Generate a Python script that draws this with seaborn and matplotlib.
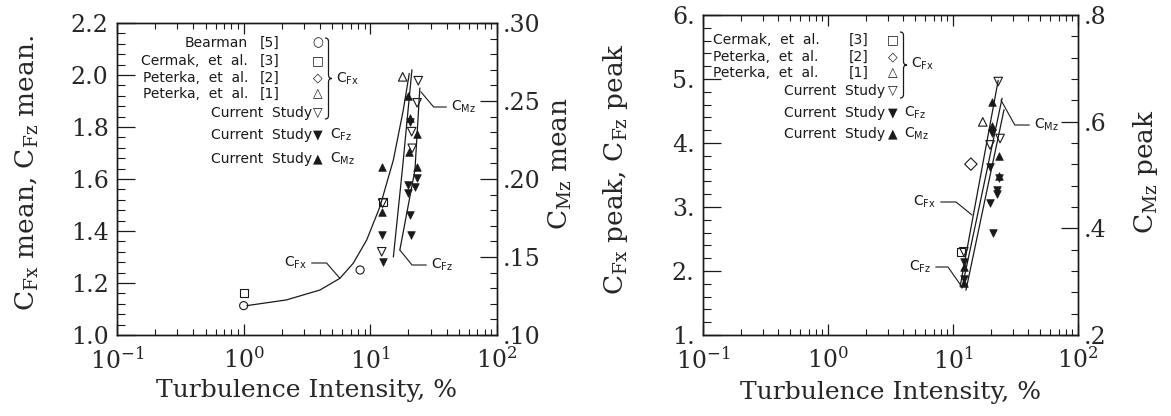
import numpy as np
import matplotlib
matplotlib.use('Agg')
import matplotlib.pyplot as plt
import seaborn as sns
from matplotlib.ticker import MultipleLocator, FuncFormatter
from matplotlib.path import Path
from matplotlib.patches import PathPatch

# ---- datos panel izquierdo (mean) ----
bearman_x = [1.0, 8.3]
bearman_y = [1.113, 1.25]
cermak_mean_x = [1.0, 12.5]
cermak_mean_y = [1.16, 1.51]
peterka1_mean_x = [18.0]
peterka1_mean_y = [1.993]
cur_fx_mean_x = [23.9, 23.4, 21.2, 21.4, 12.5, 12.3]
cur_fx_mean_y = [1.978, 1.893, 1.782, 1.718, 1.507, 1.320]
cur_fz_mean_x = [20.5, 23.2, 19.9, 22.5, 19.9, 20.5, 12.3, 20.8, 12.5]
cur_fz_mean_y = [1.819, 1.603, 1.577, 1.570, 1.545, 1.462, 1.385, 1.385, 1.282]
cur_mz_mean_x = [19.9, 20.5, 23.2, 20.2, 12.3, 23.2, 12.3]
cur_mz_mean_y = [0.253, 0.239, 0.229, 0.217, 0.208, 0.208, 0.179]

fit_fx_mean_x = [1.06, 2.18, 4.0, 5.75, 7.33, 9.35, 11.9, 15.2, 18.2, 20.3]
fit_fx_mean_y = [1.113, 1.135, 1.173, 1.218, 1.276, 1.365, 1.493, 1.673, 1.865, 2.006]
fit_fz_mean_x = [17.1, 22.5, 24.6]
fit_fz_mean_y = [1.327, 1.635, 1.95]
fit_mz_mean_x = [15.2, 18.0, 21.3]
fit_mz_mean_y = [0.150, 0.208, 0.270]

# ---- datos panel derecho (peak) ----
cermak_peak_x = [11.5]
cermak_peak_y = [2.30]
peterka2_peak_x = [13.9]
peterka2_peak_y = [3.67]
peterka1_peak_x = [17.3]
peterka1_peak_y = [4.33]
cur_fx_peak_x = [23.0, 23.8, 19.8, 12.2]
cur_fx_peak_y = [4.96, 4.07, 3.97, 2.30]
cur_fz_peak_x = [20.4, 19.8, 23.5, 22.4, 22.4, 19.8, 20.8, 12.2, 12.2]
cur_fz_peak_y = [4.15, 3.63, 3.45, 3.27, 3.21, 3.07, 2.60, 2.14, 1.88]
cur_mz_peak_x = [20.4, 20.4, 23.5, 23.5, 12.2, 12.2]
cur_mz_peak_y = [0.637, 0.591, 0.536, 0.498, 0.328, 0.297]

fit_fx_peak_x = [11.4, 16.2, 23.0]
fit_fx_peak_y = [1.755, 3.37, 4.98]
fit_fz_peak_x = [12.7, 18.0, 25.6]
fit_fz_peak_y = [1.70, 3.11, 4.52]
fit_mz_peak_x = [11.8, 17.1, 24.7]
fit_mz_peak_y = [0.288, 0.466, 0.644]

W, H = 1171, 416
INK = '#1a1a1a'
TICK_FS = 17
LABEL_FS = 19

sns.set_style('ticks')
plt.rcParams['font.family'] = ['DejaVu Serif']
plt.rcParams['mathtext.fontset'] = 'dejavuserif'
plt.rcParams['axes.edgecolor'] = INK
plt.rcParams['axes.linewidth'] = 1.0

fig = plt.figure(figsize=(W / 100, H / 100), dpi=100)


def fx(px):
    return px / W


def fy(py):
    return 1 - py / H


def ejes(x0, x1, y0, y1):
    return fig.add_axes([fx(x0), fy(y1), fx(x1 - x0), (y1 - y0) / H])


def abiertos(ax, x, y, m, s=38):
    sns.scatterplot(x=x, y=y, ax=ax, marker=m, s=s, color=INK, facecolor='none',
                    edgecolor=INK, linewidth=0.8, zorder=4, legend=False)


def llenos(ax, x, y, m, s=30):
    sns.scatterplot(x=x, y=y, ax=ax, marker=m, s=s, color=INK, edgecolor=INK,
                    linewidth=0.5, zorder=4, legend=False)


def curva(ax, x, y):
    sns.lineplot(x=x, y=y, ax=ax, color=INK, lw=0.9, sort=False, estimator=None, zorder=3)


def formato(ax, tw, ylim, yt, yf, tlim, tt, tf):
    ax.set_xscale('log')
    ax.set_xlim(0.1, 100)
    ax.set_ylim(*ylim)
    ax.yaxis.set_major_locator(MultipleLocator(yt[0]))
    ax.yaxis.set_minor_locator(MultipleLocator(yt[1]))
    ax.yaxis.set_major_formatter(FuncFormatter(yf))
    tw.set_ylim(*tlim)
    tw.yaxis.set_major_locator(MultipleLocator(tt[0]))
    tw.yaxis.set_minor_locator(MultipleLocator(tt[1]))
    tw.yaxis.set_major_formatter(FuncFormatter(tf))
    ax.tick_params(axis='x', which='both', direction='in', top=True, bottom=True,
                   labelsize=TICK_FS, pad=9, color=INK)
    ax.tick_params(axis='x', which='major', length=8, width=0.9)
    ax.tick_params(axis='x', which='minor', length=4, width=0.8)
    ax.tick_params(axis='y', which='both', direction='in', left=True, right=False,
                   labelsize=TICK_FS, pad=6, color=INK)
    ax.tick_params(axis='y', which='major', length=13, width=0.9)
    ax.tick_params(axis='y', which='minor', length=6, width=0.8)
    tw.tick_params(axis='y', which='both', direction='in', labelsize=TICK_FS, pad=4, color=INK)
    tw.tick_params(axis='y', which='major', length=12, width=0.9)
    tw.tick_params(axis='y', which='minor', length=5, width=0.8)
    for a in (ax, tw):
        for sp in a.spines.values():
            sp.set_visible(True)
            sp.set_linewidth(1.0)
    ax.set_xlabel('Turbulence Intensity, %', fontsize=18)


def llave(x0, y_top, y_bot, w):
    ym = (y_top + y_bot) / 2
    xm = x0 + w / 2
    pts = [(x0, y_top), (xm, y_top), (xm, y_top + w / 2), (xm, ym - w / 2),
           (xm, ym), (x0 + w, ym), (xm, ym), (xm, ym + w / 2), (xm, y_bot - w / 2),
           (xm, y_bot), (x0, y_bot)]
    codes = [Path.MOVETO, Path.CURVE3, Path.CURVE3, Path.LINETO, Path.CURVE3, Path.CURVE3,
             Path.CURVE3, Path.CURVE3, Path.LINETO, Path.CURVE3, Path.CURVE3]
    verts = [(fx(a), fy(b)) for a, b in pts]
    fig.add_artist(PathPatch(Path(verts, codes), transform=fig.transFigure,
                             fill=False, lw=0.9, ec=INK))


def txt(px, py, s, ha='left', size=10):
    fig.text(fx(px), fy(py), s, ha=ha, va='center', fontsize=size,
             family='DejaVu Sans', color=INK)


def guia(ax, s, xy, tx, ty, ha, angB):
    ax.annotate(s, xy=xy, xytext=(fx(tx), fy(ty)), textcoords='figure fraction',
                ha=ha, va='center', fontsize=10, family='DejaVu Sans', color=INK,
                arrowprops=dict(arrowstyle='-', lw=0.8, color=INK, shrinkA=1, shrinkB=0,
                                relpos=(1, 0.5) if ha == 'right' else (0, 0.5),
                                connectionstyle=f'angle,angleA=0,angleB={angB},rad=0'))


SUB_FX = r'C$_{\mathsf{Fx}}$'
SUB_FZ = r'C$_{\mathsf{Fz}}$'
SUB_MZ = r'C$_{\mathsf{Mz}}$'

# ================= panel izquierdo =================
ax1 = ejes(117, 497, 23, 335)
tw1 = ax1.twinx()
curva(ax1, fit_fx_mean_x, fit_fx_mean_y)
curva(ax1, fit_fz_mean_x, fit_fz_mean_y)
curva(tw1, fit_mz_mean_x, fit_mz_mean_y)
abiertos(ax1, bearman_x, bearman_y, 'o', 34)
abiertos(ax1, cermak_mean_x, cermak_mean_y, 's', 34)
abiertos(ax1, peterka1_mean_x, peterka1_mean_y, '^')
abiertos(ax1, cur_fx_mean_x, cur_fx_mean_y, 'v')
llenos(ax1, cur_fz_mean_x, cur_fz_mean_y, 'v')
llenos(tw1, cur_mz_mean_x, cur_mz_mean_y, '^')
formato(ax1, tw1, (1.0, 2.2), (0.2, 0.04), lambda v, p: f'{v:.1f}',
        (0.10, 0.30), (0.05, 0.01), lambda v, p: f'{v:.2f}'[1:])
ax1.set_ylabel(r'C$_{\mathrm{Fx}}$ mean, C$_{\mathrm{Fz}}$ mean.', fontsize=LABEL_FS)
ax1.yaxis.set_label_coords(-0.20, 0.52)
tw1.set_ylabel(r'C$_{\mathrm{Mz}}$ mean', fontsize=LABEL_FS)
tw1.yaxis.set_label_coords(1.13, 0.55)
ax1.xaxis.set_label_coords(0.5, -0.14)

filas1 = [43, 61, 78, 94, 113, 135, 159]
nombres1 = ['Bearman', 'Cermak,  et  al.', 'Peterka,  et  al.', 'Peterka,  et  al.']
refs1 = ['[5]', '[3]', '[2]', '[1]']
glifos1 = ['\u25CB', '\u25A1', '\u25C7', '\u25B3', '\u25BD', '\u25BC', '\u25B2']
for i in range(4):
    txt(248, filas1[i], nombres1[i], ha='right')
    txt(270, filas1[i], refs1[i], ha='center')
for i in range(4, 7):
    txt(312, filas1[i], 'Current  Study', ha='right')
for i, g in enumerate(glifos1):
    txt(318, filas1[i], g, ha='center', size=9)
llave(325, 38, 119, 7)
txt(336, 79, SUB_FX)
txt(330, filas1[5], SUB_FZ)
txt(330, filas1[6], SUB_MZ)

guia(ax1, SUB_FX, (5.75, 1.218), 307, 263, 'right', -49)
guia(ax1, SUB_MZ, (25.1, 1.935), 451, 107, 'left', 130)
guia(ax1, SUB_FZ, (17.1, 1.327), 431, 265, 'left', 129)

# ================= panel derecho =================
ax2 = ejes(703, 1078, 15, 335)
tw2 = ax2.twinx()
curva(ax2, fit_fx_peak_x, fit_fx_peak_y)
curva(ax2, fit_fz_peak_x, fit_fz_peak_y)
curva(tw2, fit_mz_peak_x, fit_mz_peak_y)
abiertos(ax2, cermak_peak_x, cermak_peak_y, 's', 34)
abiertos(ax2, peterka2_peak_x, peterka2_peak_y, 'D', 40)
abiertos(ax2, peterka1_peak_x, peterka1_peak_y, '^')
abiertos(ax2, cur_fx_peak_x, cur_fx_peak_y, 'v')
llenos(ax2, cur_fz_peak_x, cur_fz_peak_y, 'v')
llenos(tw2, cur_mz_peak_x, cur_mz_peak_y, '^')
formato(ax2, tw2, (1, 6), (1, 0.2), lambda v, p: f'{int(round(v))}.',
        (0.2, 0.8), (0.2, 0.04), lambda v, p: f'{v:.1f}'[1:])
ax2.set_ylabel(r'C$_{\mathrm{Fx}}$ peak, C$_{\mathrm{Fz}}$ peak', fontsize=LABEL_FS)
ax2.yaxis.set_label_coords(-0.195, 0.52)
tw2.set_ylabel(r'C$_{\mathrm{Mz}}$ peak', fontsize=LABEL_FS)
tw2.yaxis.set_label_coords(1.14, 0.51)
ax2.xaxis.set_label_coords(0.5, -0.145)

filas2 = [40, 57, 73, 91, 113, 134]
nombres2 = ['Cermak,  et  al.', 'Peterka,  et  al.', 'Peterka,  et  al.']
refs2 = ['[3]', '[2]', '[1]']
glifos2 = ['\u25A1', '\u25C7', '\u25B3', '\u25BD', '\u25BC', '\u25B2']
for i in range(3):
    txt(713, filas2[i], nombres2[i], ha='left')
    txt(859, filas2[i], refs2[i], ha='center')
for i in range(3, 6):
    txt(885, filas2[i], 'Current  Study', ha='right')
for i, g in enumerate(glifos2):
    txt(893, filas2[i], g, ha='center', size=9)
llave(900, 32, 98, 7)
txt(911, 64, SUB_FX)
txt(904, filas2[4], SUB_FZ)
txt(904, filas2[5], SUB_MZ)

guia(ax2, SUB_FX, (14.2, 2.875), 936, 202, 'right', -39)
guia(ax2, SUB_FZ, (11.8, 1.75), 931, 267, 'right', -55)
guia(ax2, SUB_MZ, (24.2, 4.67), 1034, 125, 'left', 119)

fig.savefig('out.png', dpi=100)
